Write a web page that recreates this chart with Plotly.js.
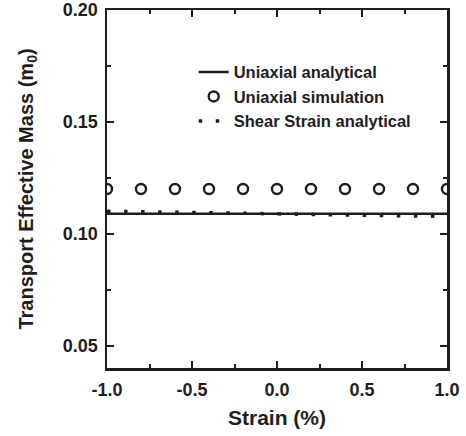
<!DOCTYPE html>
<html>
<head>
<meta charset="utf-8">
<script src="https://cdn.plot.ly/plotly-3.0.1.min.js"></script>
<style>html,body{margin:0;padding:0;background:#fff;}#chart{width:466px;height:436px;}</style>
</head>
<body>
<div id="chart"></div>
<script>
// Data
const strainAnalytical = [-1.0, 1.0];
const uniaxialAnalytical = [0.1089, 0.1089];

const strainSim = [-1.0, -0.8, -0.6, -0.4, -0.2, 0.0, 0.2, 0.4, 0.6, 0.8, 1.0];
const uniaxialSim = [0.120, 0.120, 0.120, 0.120, 0.120, 0.120, 0.120, 0.120, 0.120, 0.120, 0.120];

const strainShear = [-1.0, -0.9, -0.8, -0.7, -0.6, -0.5, -0.4, -0.3, -0.2, -0.1, 0.0,
                     0.1, 0.2, 0.3, 0.4, 0.5, 0.6, 0.7, 0.8, 0.9, 1.0];
const shearAnalytical = [0.1101, 0.1100, 0.1098, 0.1097, 0.1096, 0.1095, 0.1094, 0.1093, 0.1092, 0.1091, 0.1090,
                         0.1089, 0.1088, 0.1087, 0.1086, 0.1085, 0.1083, 0.1082, 0.1080, 0.1079, 0.1077];

const xTickVals = [-1.0, -0.5, 0.0, 0.5, 1.0];
const xTickText = ['-1.0', '-0.5', '0.0', '0.5', '1.0'];
const yTickVals = [0.05, 0.10, 0.15, 0.20];
const yTickText = ['0.05', '0.10', '0.15', '0.20'];

const ink = '#1e1e1e';
const fontFam = 'Liberation Sans, Arial, sans-serif';

const traces = [
  {
    x: strainAnalytical, y: uniaxialAnalytical, mode: 'lines', name: 'Uniaxial analytical',
    line: {color: ink, width: 2.5}
  },
  {
    x: strainSim, y: uniaxialSim, mode: 'markers', name: 'Uniaxial simulation',
    marker: {symbol: 'circle-open', size: 10, color: ink, line: {width: 2.4, color: ink}}
  },
  {
    x: strainShear, y: shearAnalytical, mode: 'lines', name: 'Shear Strain analytical',
    line: {color: ink, width: 3.5, dash: '3.5px,13.55px'}
  }
];

const layout = {
  width: 466, height: 436,
  margin: {l: 107, r: 19, t: 10, b: 68},
  paper_bgcolor: '#ffffff', plot_bgcolor: '#ffffff',
  font: {family: fontFam, color: ink, size: 16},
  showlegend: true,
  legend: {
    x: 0.255, y: 0.875, xanchor: 'left', yanchor: 'top',
    bgcolor: 'rgba(0,0,0,0)', borderwidth: 0,
    font: {family: fontFam, size: 16.5, color: ink, weight: 'bold'},
    tracegroupgap: 0, itemwidth: 30
  },
  xaxis: {
    range: [-1.0, 1.0], tickmode: 'array', tickvals: xTickVals, ticktext: xTickText,
    ticks: 'inside', ticklen: 7, tickwidth: 2, tickcolor: ink,
    showline: true, linewidth: 2.5, linecolor: ink, mirror: 'allticks',
    showgrid: false, zeroline: false, ticklabelstandoff: 4,
    tickfont: {family: fontFam, size: 18, color: ink, weight: 'bold'},
    minor: {dtick: 0.25, tick0: 0, ticks: 'inside', ticklen: 4, tickwidth: 2, tickcolor: ink, showgrid: false},
    title: {text: 'Strain (%)', font: {family: fontFam, size: 21, color: ink, weight: 'bold'}, standoff: 11}
  },
  yaxis: {
    range: [0.04, 0.20], tickmode: 'array', tickvals: yTickVals, ticktext: yTickText,
    ticks: 'inside', ticklen: 7, tickwidth: 2, tickcolor: ink,
    showline: true, linewidth: 2.5, linecolor: ink, mirror: 'allticks',
    showgrid: false, zeroline: false, ticklabelstandoff: 3,
    tickfont: {family: fontFam, size: 18, color: ink, weight: 'bold'},
    minor: {dtick: 0.025, tick0: 0, ticks: 'inside', ticklen: 4, tickwidth: 2, tickcolor: ink, showgrid: false},
    title: {text: 'Transport Effective Mass (m<sub>0</sub>)', font: {family: fontFam, size: 20, color: ink, weight: 'bold'}, standoff: 24}
  }
};

Plotly.newPlot('chart', traces, layout, {displayModeBar: false, staticPlot: true});
</script>
</body>
</html>
